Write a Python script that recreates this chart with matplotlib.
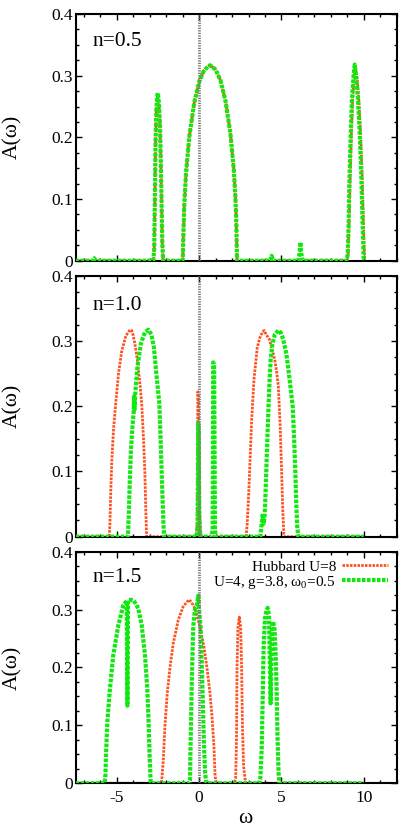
import matplotlib
matplotlib.use('Agg')
import matplotlib.pyplot as plt
from matplotlib.ticker import MultipleLocator, FuncFormatter
import numpy as np

# Espectros A(w): pares (omega, A)
hub_05 = [(-7.5, 0), (-2.78, 0), (-2.73, 0.02), (-2.69, 0.1), (-2.65, 0.19), (-2.6, 0.245),
          (-2.54, 0.262), (-2.5, 0.265), (-2.44, 0.25), (-2.38, 0.22), (-2.33, 0.16),
          (-2.28, 0.09), (-2.24, 0.03), (-2.19, 0), (-1.0, 0), (-0.95, 0.05), (-0.9, 0.092),
          (-0.8, 0.141), (-0.6, 0.201), (-0.3, 0.256), (0.0, 0.29), (0.3, 0.309), (0.66, 0.317),
          (1.0, 0.31), (1.3, 0.292), (1.6, 0.259), (1.9, 0.206), (2.1, 0.149), (2.2, 0.104),
          (2.25, 0.07), (2.3, 0), (8.98, 0), (9.05, 0.01), (9.1, 0.06), (9.16, 0.12), (9.24, 0.2),
          (9.32, 0.26), (9.42, 0.3), (9.5, 0.312), (9.6, 0.295), (9.7, 0.26), (9.8, 0.21),
          (9.9, 0.14), (9.98, 0.06), (10.05, 0)]
hol_05 = [(-7.5, 0), (-6.45, 0), (-6.37, 0.004), (-6.3, 0), (-2.78, 0), (-2.73, 0.02),
          (-2.69, 0.1), (-2.65, 0.19), (-2.6, 0.245), (-2.54, 0.268), (-2.51, 0.272),
          (-2.44, 0.255), (-2.38, 0.22), (-2.33, 0.16), (-2.28, 0.09), (-2.24, 0.03), (-2.19, 0),
          (-1.0, 0), (-0.95, 0.05), (-0.9, 0.092), (-0.8, 0.141), (-0.6, 0.201), (-0.3, 0.256),
          (0.0, 0.29), (0.3, 0.309), (0.66, 0.317), (1.0, 0.31), (1.3, 0.292), (1.6, 0.259),
          (1.9, 0.206), (2.1, 0.149), (2.2, 0.104), (2.25, 0.07), (2.3, 0), (4.32, 0),
          (4.4, 0.008), (4.48, 0), (6.02, 0), (6.1, 0.012), (6.15, 0.03), (6.2, 0.012),
          (6.28, 0), (8.95, 0), (9.02, 0.01), (9.08, 0.06), (9.12, 0.12), (9.2, 0.2),
          (9.28, 0.26), (9.38, 0.3), (9.45, 0.318), (9.55, 0.295), (9.65, 0.26), (9.75, 0.21),
          (9.85, 0.14), (9.93, 0.06), (10.0, 0)]

hub_10 = [(-7.5, 0), (-5.47, 0), (-5.42, 0.02), (-5.37, 0.07), (-5.3, 0.12), (-5.2, 0.165),
          (-5.07, 0.204), (-4.9, 0.25), (-4.7, 0.285), (-4.45, 0.308), (-4.2, 0.317),
          (-4.1, 0.316), (-4.02, 0.31), (-3.9, 0.295), (-3.75, 0.27), (-3.6, 0.235),
          (-3.49, 0.204), (-3.38, 0.15), (-3.3, 0.1), (-3.24, 0.04), (-3.19, 0), (-0.18, 0),
          (-0.12, 0.02), (-0.08, 0.222), (-0.05, 0.215), (-0.01, 0.12), (0.04, 0.03), (0.1, 0),
          (2.85, 0), (2.92, 0.02), (2.98, 0.05), (3.05, 0.09), (3.12, 0.135), (3.19, 0.179),
          (3.33, 0.241), (3.53, 0.29), (3.69, 0.305), (3.85, 0.314), (3.96, 0.316), (4.06, 0.31),
          (4.26, 0.303), (4.45, 0.285), (4.6, 0.27), (4.72, 0.25), (4.81, 0.23), (4.92, 0.17),
          (5.01, 0.1), (5.08, 0.04), (5.15, 0), (10.0, 0)]
hol_10 = [(-7.5, 0), (-4.33, 0), (-4.28, 0.03), (-4.22, 0.08), (-4.15, 0.13), (-4.05, 0.17),
          (-3.98, 0.19), (-3.95, 0.215), (-3.93, 0.195), (-3.88, 0.22), (-3.75, 0.26),
          (-3.55, 0.295), (-3.3, 0.313), (-3.09, 0.317), (-2.9, 0.31), (-2.75, 0.29),
          (-2.6, 0.25), (-2.42, 0.204), (-2.33, 0.14), (-2.24, 0.07), (-2.17, 0.02), (-2.13, 0),
          (-0.15, 0), (-0.09, 0.02), (-0.06, 0.174), (-0.03, 0.165), (0.01, 0.03), (0.07, 0),
          (0.75, 0), (0.82, 0.01), (0.85, 0.267), (0.88, 0.265), (0.91, 0.26), (0.96, 0.01),
          (1.02, 0), (3.72, 0), (3.8, 0.02), (3.86, 0.035), (3.92, 0.02), (3.97, 0.03),
          (4.01, 0.05), (4.06, 0.087), (4.13, 0.14), (4.2, 0.19), (4.27, 0.235), (4.34, 0.27),
          (4.45, 0.295), (4.6, 0.31), (4.81, 0.316), (4.95, 0.313), (5.1, 0.303), (5.3, 0.28),
          (5.5, 0.24), (5.68, 0.2), (5.77, 0.15), (5.84, 0.1), (5.9, 0.05), (5.96, 0.015),
          (6.02, 0), (10.0, 0)]

hub_15 = [(-7.5, 0), (-2.3, 0), (-2.26, 0.01), (-2.18, 0.04), (-2.08, 0.098), (-1.94, 0.155),
          (-1.77, 0.201), (-1.57, 0.242), (-1.27, 0.282), (-0.97, 0.305), (-0.75, 0.313),
          (-0.6, 0.317), (-0.45, 0.312), (-0.26, 0.302), (0.05, 0.27), (0.29, 0.236),
          (0.49, 0.196), (0.66, 0.155), (0.78, 0.115), (0.9, 0.063), (0.96, 0.017), (1.02, 0),
          (2.15, 0), (2.22, 0.01), (2.27, 0.08), (2.3, 0.2), (2.36, 0.27), (2.44, 0.287),
          (2.52, 0.27), (2.58, 0.2), (2.63, 0.1), (2.7, 0.03), (2.8, 0.005), (2.85, 0), (10.0, 0)]
hol_15 = [(-7.5, 0), (-5.75, 0), (-5.7, 0.01), (-5.66, 0.047), (-5.58, 0.105), (-5.42, 0.163),
          (-5.22, 0.221), (-4.91, 0.273), (-4.61, 0.307), (-4.4, 0.315), (-4.36, 0.134),
          (-4.32, 0.316), (-4.15, 0.317), (-4.0, 0.316), (-3.85, 0.31), (-3.7, 0.302),
          (-3.49, 0.273), (-3.29, 0.221), (-3.15, 0.163), (-3.07, 0.105), (-3.01, 0.047),
          (-2.95, 0.004), (-2.9, 0), (-0.6, 0), (-0.56, 0.005), (-0.5, 0.098), (-0.44, 0.184),
          (-0.36, 0.27), (-0.26, 0.3), (-0.12, 0.31), (-0.05, 0.324), (-0.01, 0.3), (0.09, 0.27),
          (0.15, 0.213), (0.21, 0.155), (0.29, 0.069), (0.36, 0.02), (0.41, 0.005), (0.46, 0),
          (3.65, 0), (3.72, 0.01), (3.8, 0.06), (3.86, 0.15), (3.92, 0.24), (4.0, 0.285),
          (4.1, 0.3), (4.16, 0.303), (4.24, 0.29), (4.3, 0.2), (4.34, 0.138), (4.38, 0.2),
          (4.42, 0.27), (4.5, 0.279), (4.58, 0.265), (4.65, 0.22), (4.71, 0.155), (4.76, 0.08),
          (4.82, 0.02), (4.87, 0), (10.0, 0)]

fillings = ['n=0.5', 'n=1.0', 'n=1.5']
hubbard = [hub_05, hub_10, hub_15]
holstein = [hol_05, hol_10, hol_15]
labels = ['Hubbard U=8', 'U=4, g=3.8, ω$_0$=0.5']

plt.rcParams['font.family'] = ['Liberation Serif', 'DejaVu Serif']
plt.rcParams['mathtext.fontset'] = 'custom'
plt.rcParams['mathtext.rm'] = 'Liberation Serif'
plt.rcParams['axes.unicode_minus'] = False

red = '#ff5020'
green = '#10e810'

fig = plt.figure(figsize=(4.15, 8.3), dpi=100)
# posiciones de los paneles (no tienen la misma altura en el original)
boxes = [[0.1824, 0.6859, 0.7735, 0.2972],
         [0.1824, 0.3534, 0.7735, 0.3145],
         [0.1824, 0.0563, 0.7735, 0.2790]]

yfmt = FuncFormatter(lambda v, p: '0' if abs(v) < 1e-9 else '%.1f' % v)

for i, box in enumerate(boxes):
    ax = fig.add_axes(box)
    w, a = np.array(hubbard[i]).T
    ax.plot(w, a, color=red, lw=2.0, linestyle=(0, (0.9, 0.45)), label=labels[0], zorder=2)
    w, a = np.array(holstein[i]).T
    ax.plot(w, a, color=green, lw=3.0, linestyle=(0, (0.85, 0.35)), label=labels[1], zorder=3)
    ax.axvline(0, color='#7a7a7a', lw=2.0, linestyle=(0, (0.45, 0.45)), zorder=4)

    ax.set_xlim(-7.5, 12)
    ax.set_ylim(0, 0.4)
    ax.xaxis.set_major_locator(MultipleLocator(5))
    ax.xaxis.set_minor_locator(MultipleLocator(1))
    ax.yaxis.set_major_locator(MultipleLocator(0.1))
    ax.yaxis.set_minor_locator(MultipleLocator(0.025))
    ax.yaxis.set_major_formatter(yfmt)
    ax.tick_params(which='both', direction='in', top=True, right=True, width=1.0,
                   labelsize=12.5, pad=2)
    ax.tick_params(which='major', length=4)
    ax.tick_params(which='minor', length=2)
    ax.tick_params(axis='x', pad=5)
    for s in ax.spines.values():
        s.set_linewidth(1.5)

    ax.set_ylabel('A(ω)', fontsize=15.5)
    ax.yaxis.set_label_coords(-0.168, 0.5)
    ax.text(0.053, 0.87, fillings[i], transform=ax.transAxes, fontsize=15.5, va='baseline')

    if i < 2:
        ax.tick_params(axis='x', labelbottom=False)
    else:
        ax.set_xlabel('ω', fontsize=15.5, va='baseline')
        ax.xaxis.set_label_coords(0.527, -0.172)
        ax.legend(loc='upper right', bbox_to_anchor=(0.973, 0.965), frameon=False,
                  markerfirst=False, fontsize=11, handlelength=3.0, handletextpad=0.4,
                  labelspacing=0.0, borderpad=0, borderaxespad=0)

fig.savefig('out.png', dpi=100)
